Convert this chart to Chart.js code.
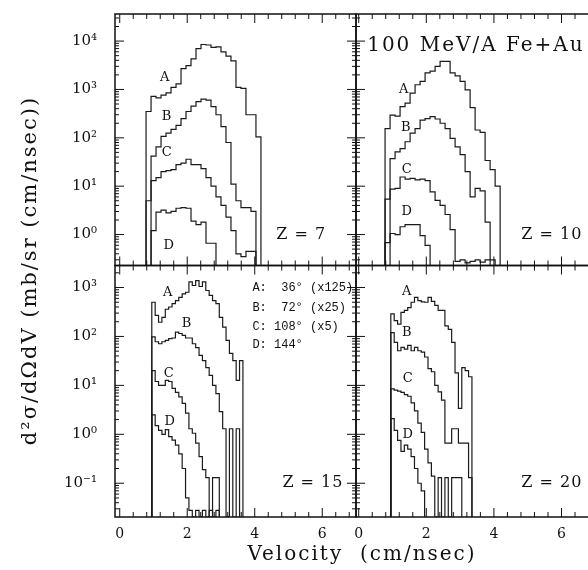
<!DOCTYPE html>
<html>
<head>
<meta charset="utf-8">
<script src="https://cdn.jsdelivr.net/npm/chart.js"></script>
<style>
  html, body { margin: 0; padding: 0; background: #fff; overflow: hidden; }
  #wrap { position: relative; width: 597px; height: 570px; }
</style>
</head>
<body>
<div id="wrap"><canvas id="chart" width="597" height="570"></canvas></div>
<script>
// velocity bins (cm/nsec)
const topBinStart = 0.78, topBinWidth = 0.148;
const botBinStart = 0.95, botBinWidth = 0.1;

// Z = 7
const z7A = [350, 720, 670, 760, 850, 1100, 1300, 2700, 3100, 4300, 7000, 8500, 8300, 7400, 7600, 6000, 4900, 3900, 1100, 1050, 300, 300, 105];
const z7B = [0, 42, 65, 107, 125, 150, 180, 250, 350, 450, 560, 630, 600, 440, 300, 170, 80, 11, 5, 3.6, 3.6, 3, 0];
const z7C = [5, 13, 15, 20, 21, 22, 28, 30, 36, 28, 28, 23, 15, 10, 6, 4, 2.3, 1.2, 0.4, 0.35, 0.45, 0.45, 0];
const z7D = [0, 1.2, 2.9, 3.2, 2.8, 3.0, 3.5, 3.6, 3.5, 1.9, 1.6, 1.8, 0.66, 0.66];

// Z = 10
const z10A = [155, 295, 280, 440, 520, 840, 1250, 1470, 2200, 2400, 3000, 3800, 3800, 2200, 1900, 1470, 980, 420, 145, 130, 34, 22, 10];
const z10B = [0, 37, 51, 60, 83, 125, 155, 233, 250, 275, 245, 200, 155, 97, 65, 45, 20, 6, 9, 8, 1.8, 0.3, 0];
const z10C = [5.4, 8.7, 9, 15.5, 14, 14.5, 13.5, 14, 13, 7.6, 5.1, 4, 2.6, 1.26, 0.28, 0.3, 0.26, 0.28, 0.3, 0.27, 0.3, 0];
const z10D = [0.68, 1.05, 1.0, 1.45, 1.6, 1.6, 1.6, 0.95, 0.6];

// Z = 15
const z15A = [500, 270, 195, 245, 360, 400, 470, 540, 630, 740, 800, 1300, 1100, 1380, 1050, 1300, 870, 690, 540, 470, 245, 155, 83, 45, 32, 12.6, 32];
const z15B = [98, 78, 71, 78, 83, 90, 93, 123, 115, 105, 93, 93, 71, 59, 41, 32, 23, 16, 10, 6.8, 2.9, 1.3, 0, 1.3, 0, 1.3];
const z15C = [20, 12, 10, 10, 12.6, 12, 8.7, 7.2, 5.8, 4.3, 2.7, 1.3, 1.05, 0.66, 0.35, 0.19, 0.13, 0, 0.13, 0.13];
const z15D = [2.5, 1.5, 1.2, 1.0, 1.25, 0.9, 0.76, 0.6, 0.4, 0.2, 0.05, 0.028, 0, 0.028, 0, 0.028, 0, 0.028, 0, 0.028];

// Z = 20
const z20A = [290, 210, 178, 310, 340, 390, 500, 630, 540, 510, 500, 630, 520, 430, 340, 340, 165, 140, 76, 18, 3.4, 23, 20, 15];
const z20B = [120, 76, 51, 60, 55, 66, 51, 60, 51, 48, 38, 22, 19, 10, 7.4, 5, 0.66, 0.66, 1.3, 1.3, 0.66, 0.66, 0.66, 0.13];
const z20C = [8.5, 8.0, 7.6, 7.2, 6.5, 6.0, 4.4, 3.0, 1.7, 1.1, 0.5, 0.26, 0.14, 0, 0.13, 0, 0.13, 0, 0.13, 0.13, 0.13];
const z20D = [2.1, 1.2, 0.75, 0.45, 0.6, 0.5, 0.35, 0.2, 0.1, 0.07];

// axis ranges and tick labels
const topRange = [Math.pow(10, -0.64), Math.pow(10, 4.56)];
const botRange = [Math.pow(10, -1.69), Math.pow(10, 3.45)];
const xTicks = [0, 2, 4, 6];
const xTickLabels = ['0', '2', '4', '6'];
const topTicks = [1, 10, 100, 1000, 10000];
const topTickLabels = ['10\u2070', '10\u00b9', '10\u00b2', '10\u00b3', '10\u2074'];
const botTicks = [0.1, 1, 10, 100, 1000];
const botTickLabels = ['10\u207b\u00b9', '10\u2070', '10\u00b9', '10\u00b2', '10\u00b3'];

const curveNames = ['A', 'B', 'C', 'D'];
const legendLines = ['A:  36\u00b0 (x125)', 'B:  72\u00b0 (x25)', 'C: 108\u00b0 (x5)', 'D: 144\u00b0'];

const xTitle = 'Velocity  (cm/nsec)';
const yTitle = 'd\u00b2\u03c3/d\u03a9dV (mb/sr (cm/nsec))';

const panels = [
    { x: 'xL', y: 'yTop', floor: topRange[0], start: topBinStart, width: topBinWidth, series: [z7A, z7B, z7C, z7D],
      labels: [[1.33, 1780], [1.39, 280], [1.39, 50], [1.45, 0.58]], z: 'Z = 7', zAt: [4.64, 1] },
    { x: 'xR', y: 'yTop', floor: topRange[0], start: topBinStart, width: topBinWidth, series: [z10A, z10B, z10C, z10D],
      labels: [[1.33, 1000], [1.39, 162], [1.42, 22], [1.42, 3.0]], z: 'Z = 10', zAt: [4.81, 1] },
    { x: 'xL', y: 'yBot', floor: botRange[0], start: botBinStart, width: botBinWidth, series: [z15A, z15B, z15C, z15D],
      labels: [[1.42, 790], [1.98, 185], [1.45, 17.5], [1.48, 1.85]], z: 'Z = 15', zAt: [4.82, 0.1] },
    { x: 'xR', y: 'yBot', floor: botRange[0], start: botBinStart, width: botBinWidth, series: [z20A, z20B, z20C, z20D],
      labels: [[1.42, 830], [1.42, 117], [1.45, 14], [1.45, 0.98]], z: 'Z = 20', zAt: [4.81, 0.1] }
];

// step histogram: rise at first edge, value held across each bin, drop after last.
// empty bins sit on the axis floor (a log axis cannot show 0)
function histPoints(start, width, values, floor) {
    const y = v => (v > 0 ? v : floor);
    const pts = [{ x: start, y: floor }];
    values.forEach((v, i) => pts.push({ x: start + i * width, y: y(v) }));
    pts.push({ x: start + values.length * width, y: floor });
    return pts;
}

const datasets = [];
panels.forEach(p => {
    p.series.forEach(values => {
        datasets.push({
            data: histPoints(p.start, p.width, values, p.floor),
            xAxisID: p.x,
            yAxisID: p.y,
            stepped: true,
            borderColor: '#1a1a1a',
            borderWidth: 1.2,
            pointRadius: 0,
            fill: false
        });
    });
});

const serif = '"DejaVu Serif", serif';

// keep each histogram inside its own panel
const panelClip = {
    id: 'panelClip',
    beforeDatasetDraw(chart, args) {
        const meta = args.meta;
        const ctx = chart.ctx;
        ctx.save();
        ctx.beginPath();
        ctx.rect(meta.xScale.left, meta.yScale.top, meta.xScale.right - meta.xScale.left, meta.yScale.bottom - meta.yScale.top);
        ctx.clip();
    },
    afterDatasetDraw(chart) {
        chart.ctx.restore();
    }
};

// frames, inward ticks and in-panel text
const frames = {
    id: 'frames',
    afterDatasetsDraw(chart) {
        const ctx = chart.ctx;
        ctx.save();
        ctx.strokeStyle = '#111';
        ctx.fillStyle = '#111';
        panels.forEach(p => {
            const xs = chart.scales[p.x], ys = chart.scales[p.y];
            const l = xs.left, r = xs.right, t = ys.top, b = ys.bottom;
            ctx.lineWidth = 1.5;
            ctx.strokeRect(l, t, r - l, b - t);

            ctx.lineWidth = 1;
            ctx.beginPath();
            for (let k = 0; k <= 20; k++) {
                const v = k * 0.4;
                if (v < xs.min || v > xs.max) continue;
                const px = xs.getPixelForValue(v);
                const len = (Math.abs(v / 2 - Math.round(v / 2)) < 1e-6) ? 9 : 5;
                ctx.moveTo(px, b); ctx.lineTo(px, b - len);
                ctx.moveTo(px, t); ctx.lineTo(px, t + len);
            }
            const d0 = Math.floor(Math.log10(ys.min)), d1 = Math.ceil(Math.log10(ys.max));
            for (let d = d0; d <= d1; d++) {
                for (let m = 1; m <= 9; m++) {
                    const v = m * Math.pow(10, d);
                    if (v < ys.min || v > ys.max) continue;
                    const py = ys.getPixelForValue(v);
                    const len = m === 1 ? 9 : 4;
                    ctx.moveTo(l, py); ctx.lineTo(l + len, py);
                    ctx.moveTo(r, py); ctx.lineTo(r - len, py);
                }
            }
            ctx.stroke();

            ctx.font = '13px ' + serif;
            ctx.textAlign = 'center';
            ctx.textBaseline = 'middle';
            p.labels.forEach((pos, i) => {
                ctx.fillText(curveNames[i], xs.getPixelForValue(pos[0]), ys.getPixelForValue(pos[1]));
            });

            ctx.font = '16px ' + serif;
            ctx.textAlign = 'left';
            ctx.letterSpacing = '1px';
            ctx.fillText(p.z, xs.getPixelForValue(p.zAt[0]), ys.getPixelForValue(p.zAt[1]));
            ctx.letterSpacing = '0px';
        });

        // reaction label, top right panel
        const xr = chart.scales.xR, yt = chart.scales.yTop;
        ctx.font = '20px ' + serif;
        ctx.textAlign = 'left';
        ctx.letterSpacing = '2px';
        ctx.fillText('100 MeV/A Fe+Au', xr.getPixelForValue(0.25), yt.getPixelForValue(7900));
        ctx.letterSpacing = '0px';

        // angle legend, bottom left panel
        const xl = chart.scales.xL, yb = chart.scales.yBot;
        ctx.font = '12px "Liberation Mono", monospace';
        const legendY = [1000, 390, 160, 66];
        legendLines.forEach((txt, i) => {
            ctx.fillText(txt, xl.getPixelForValue(3.93), yb.getPixelForValue(legendY[i]));
        });

        // axis titles
        const area = chart.chartArea;
        ctx.textAlign = 'center';
        ctx.letterSpacing = '2px';
        ctx.font = '20px ' + serif;
        ctx.fillText(xTitle, (area.left + area.right) / 2 + 6, area.bottom + 38);
        ctx.font = '21px ' + serif;
        ctx.translate(31, (area.top + area.bottom) / 2 + 5);
        ctx.rotate(-Math.PI / 2);
        ctx.fillText(yTitle, 0, 0);
        ctx.restore();
    }
};

function xAxis(min, max) {
    return {
        type: 'linear',
        position: 'bottom',
        stack: 'h',
        stackWeight: 1,
        min: min,
        max: max,
        bounds: 'data',
        grid: { display: false, drawTicks: false },
        border: { display: false },
        afterBuildTicks: scale => { scale.ticks = xTicks.map(v => ({ value: v })); },
        afterFit: scale => { scale.height = 53; scale.paddingLeft = 0; scale.paddingRight = 0; },
        ticks: {
            padding: 9,
            color: '#111',
            font: { family: serif, size: 14 },
            maxRotation: 0,
            autoSkip: false,
            callback: (v, i) => xTickLabels[i]
        }
    };
}

function yAxis(range, ticks, labels) {
    return {
        type: 'logarithmic',
        position: 'left',
        stack: 'v',
        stackWeight: 1,
        min: range[0],
        max: range[1],
        bounds: 'data',
        grid: { display: false, drawTicks: false },
        border: { display: false },
        afterBuildTicks: scale => { scale.ticks = ticks.map(v => ({ value: v })); },
        afterFit: scale => { scale.width = 115; scale.paddingTop = 0; scale.paddingBottom = 0; },
        ticks: {
            padding: 18,
            color: '#111',
            font: { family: serif, size: 15 },
            autoSkip: false,
            callback: (v, i) => labels[i]
        }
    };
}

new Chart(document.getElementById('chart'), {
    type: 'line',
    data: { datasets: datasets },
    options: {
        responsive: false,
        animation: false,
        layout: { padding: { top: 14, right: 0, bottom: 0, left: 0 } },
        plugins: { legend: { display: false }, tooltip: { enabled: false } },
        scales: {
            // left boxes are stacked in reverse order: the bottom panel axis comes first
            yBot: yAxis(botRange, botTicks, botTickLabels),
            yTop: yAxis(topRange, topTicks, topTickLabels),
            xL: xAxis(-0.14, 7.0),
            xR: xAxis(-0.08, 7.05)
        }
    },
    plugins: [panelClip, frames]
});
</script>
</body>
</html>
